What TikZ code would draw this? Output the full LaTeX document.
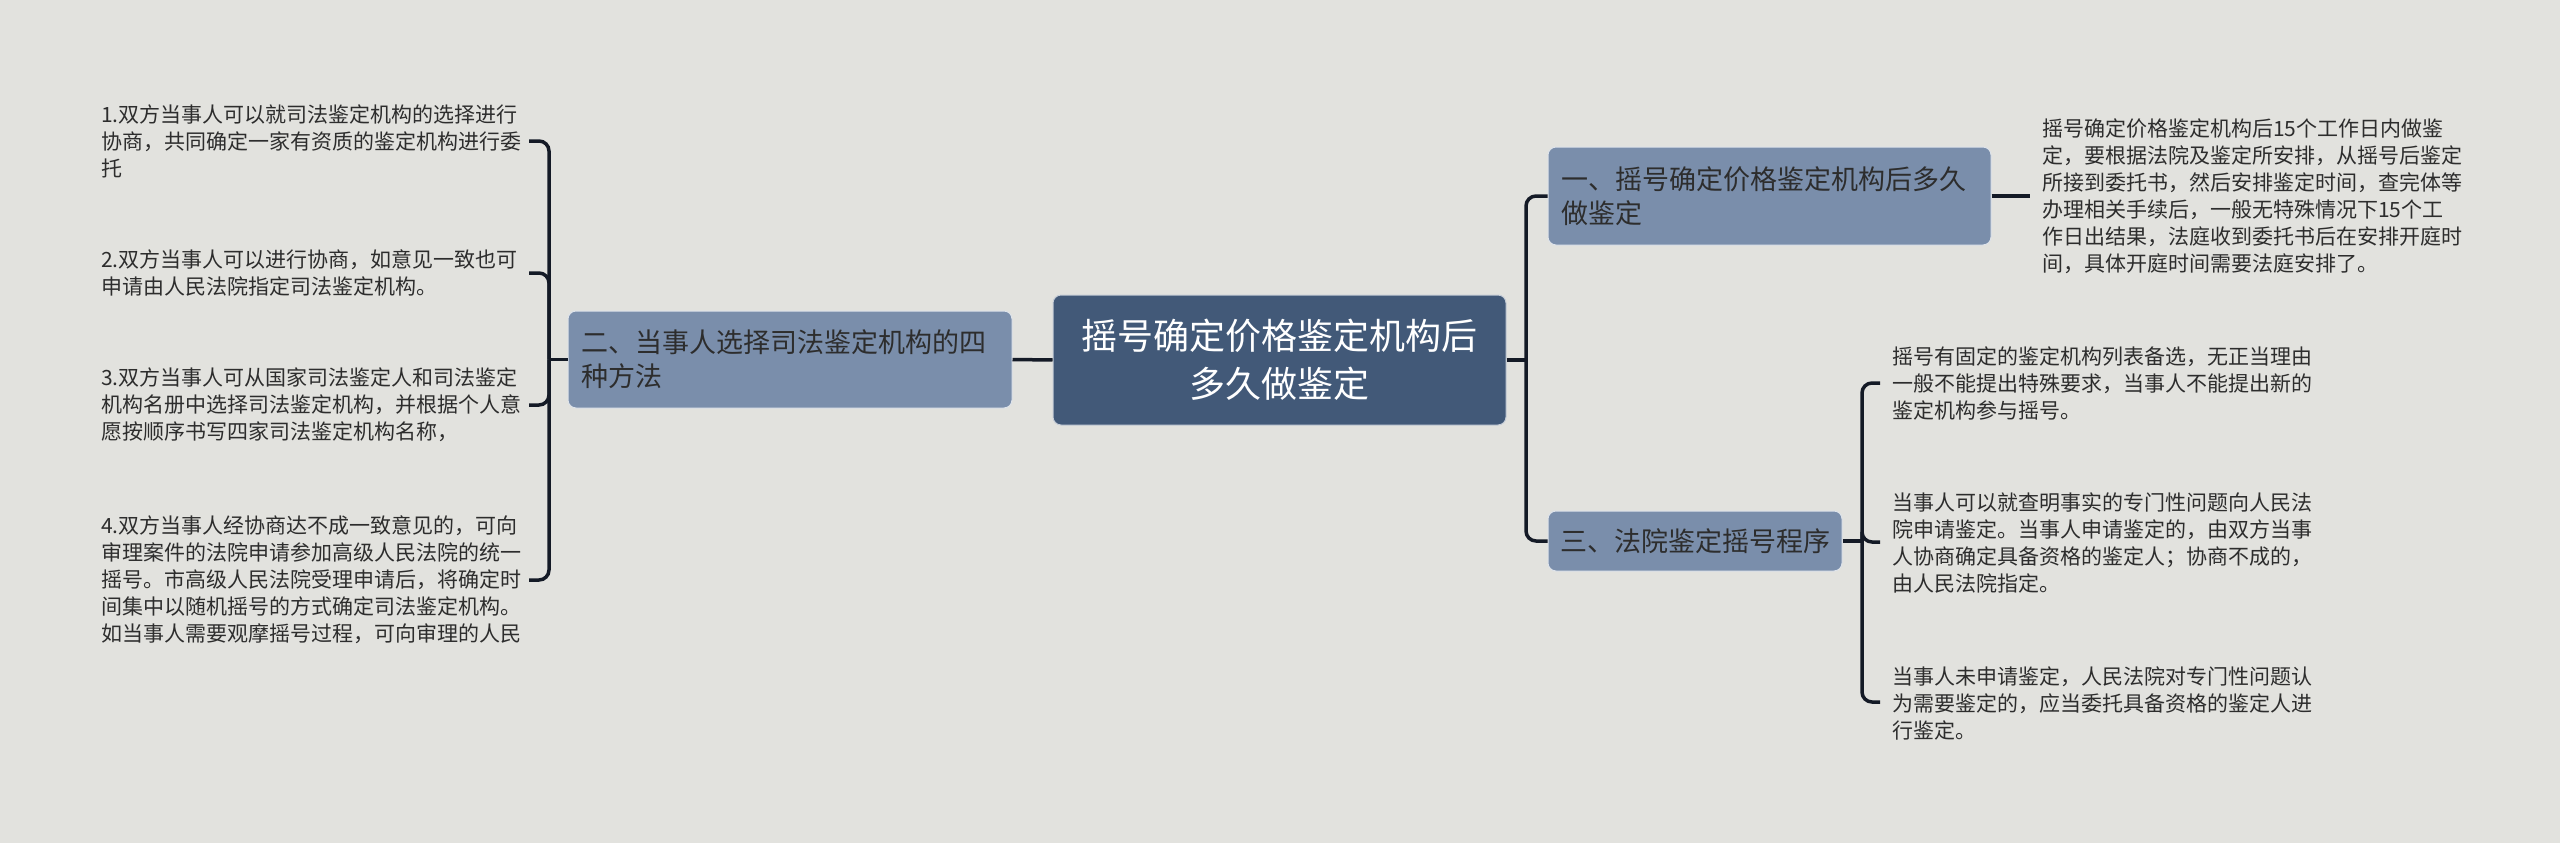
\documentclass[tikz,border=0pt]{standalone}
\usepackage{fontspec}
\setmainfont{Noto Sans CJK SC}
\usetikzlibrary{calc}
\definecolor{bg}{RGB}{226,226,222}
\definecolor{rootc}{RGB}{66,89,120}
\definecolor{brc}{RGB}{122,142,171}
\definecolor{linec}{RGB}{20,26,38}
\definecolor{txt}{RGB}{45,45,45}
\begin{document}
\begin{tikzpicture}[x=1pt,y=-1pt,
 leaf/.style={inner sep=0pt, anchor=west, align=left, text=txt, font=\fontsize{21}{27}\selectfont},
 branchbox/.style={rounded corners=8pt, fill=brc, draw=white!75!brc, line width=1pt, text=txt, align=left, inner xsep=13pt, inner ysep=0pt, font=\fontsize{27}{34}\selectfont},
 rootbox/.style={rounded corners=8pt, fill=rootc, draw=white!70!rootc, line width=1pt, text=white, align=center, font=\fontsize{36}{48}\selectfont},
 conn/.style={draw=linec, line width=3.5pt, rounded corners=10pt}]
\fill[bg] (0,0) rectangle (2560,843);
\useasboundingbox (0,0) rectangle (2560,843);

% boxes
\node[rootbox, minimum width=453pt, minimum height=130pt] (root) at (1279.5,360) {摇号确定价格鉴定机构后\\多久做鉴定};
\node[branchbox, text width=418pt, minimum height=97pt] (lb) at (790,359.5) {二、当事人选择司法鉴定机构的四\\种方法};
\node[branchbox, text width=417pt, minimum height=98pt] (b1) at (1769.5,196) {一、摇号确定价格鉴定机构后多久\\做鉴定};
\node[branchbox, inner xsep=12pt, text width=270pt, minimum height=60pt] (b3) at (1695,541) {三、法院鉴定摇号程序};

% left leaves
\node[leaf] (l1) at (101,141) {1.双方当事人可以就司法鉴定机构的选择进行\\协商，共同确定一家有资质的鉴定机构进行委\\托};
\node[leaf] (l2) at (101,273) {2.双方当事人可以进行协商，如意见一致也可\\申请由人民法院指定司法鉴定机构。};
\node[leaf] (l3) at (101,405) {3.双方当事人可从国家司法鉴定人和司法鉴定\\机构名册中选择司法鉴定机构，并根据个人意\\愿按顺序书写四家司法鉴定机构名称，};
\node[leaf] (l4) at (101,580) {4.双方当事人经协商达不成一致意见的，可向\\审理案件的法院申请参加高级人民法院的统一\\摇号。市高级人民法院受理申请后，将确定时\\间集中以随机摇号的方式确定司法鉴定机构。\\如当事人需要观摩摇号过程，可向审理的人民};

% right leaves
\node[leaf] (r1) at (2042,196) {摇号确定价格鉴定机构后15个工作日内做鉴\\定，要根据法院及鉴定所安排，从摇号后鉴定\\所接到委托书，然后安排鉴定时间，查完体等\\办理相关手续后，一般无特殊情况下15个工\\作日出结果，法庭收到委托书后在安排开庭时\\间，具体开庭时间需要法庭安排了。};
\node[leaf] (ra) at (1892,383) {摇号有固定的鉴定机构列表备选，无正当理由\\一般不能提出特殊要求，当事人不能提出新的\\鉴定机构参与摇号。};
\node[leaf] (rb) at (1892,543) {当事人可以就查明事实的专门性问题向人民法\\院申请鉴定。当事人申请鉴定的，由双方当事\\人协商确定具备资格的鉴定人；协商不成的，\\由人民法院指定。};
\node[leaf] (rc) at (1892,703) {当事人未申请鉴定，人民法院对专门性问题认\\为需要鉴定的，应当委托具备资格的鉴定人进\\行鉴定。};

% connector points
\coordinate (lj) at (549,359.5);
\coordinate (l1c) at (529,141);
\coordinate (l2c) at (529,273);
\coordinate (l3c) at (529,405);
\coordinate (l4c) at (529,580);
\coordinate (rj) at (1526,360);
\coordinate (r1c) at (2030,196);
\coordinate (r3j) at (1862,541);
\coordinate (rac) at (1880,383);
\coordinate (rbc) at (1880,542);
\coordinate (rcc) at (1880,702);

% connectors
\draw[conn] (lb.west) -- (lj);
\draw[conn] (lj) |- (l1c);
\draw[conn] (lj) |- (l2c);
\draw[conn] (lj) |- (l3c);
\draw[conn] (lj) |- (l4c);
\draw[conn] (lb.east) -- (root.west);
\draw[conn] (root.east) -- (rj);
\draw[conn] (rj) |- (b1.west);
\draw[conn] (rj) |- (b3.west);
\draw[conn] (b1.east) -- (r1c);
\draw[conn] (b3.east) -- (r3j);
\draw[conn] (r3j) |- (rac);
\draw[conn] (r3j) |- (rbc);
\draw[conn] (r3j) |- (rcc);
\end{tikzpicture}
\end{document}
